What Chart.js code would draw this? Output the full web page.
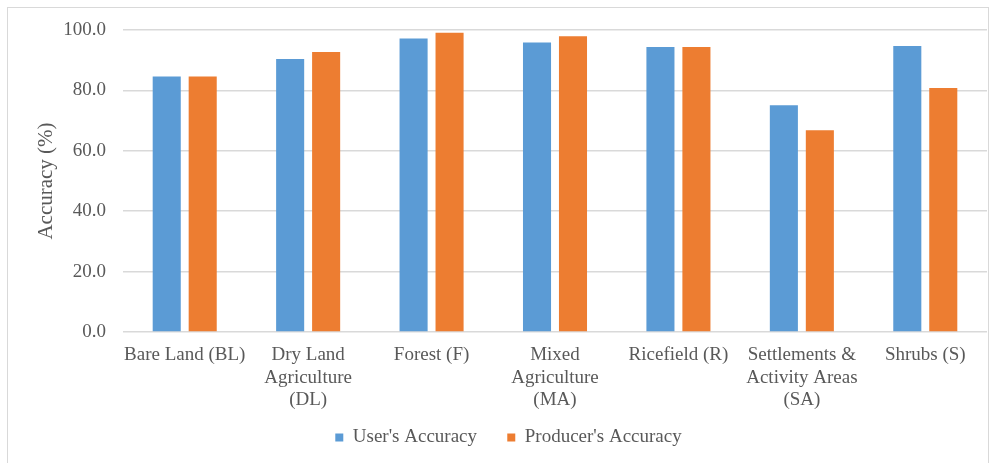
<!DOCTYPE html>
<html>
<head>
<meta charset="utf-8">
<script src="https://cdn.jsdelivr.net/npm/chart.js@4.4.0/dist/chart.umd.min.js"></script>
<style>
  html, body { margin: 0; padding: 0; background: #ffffff; }
  #frame { position: absolute; left: 7px; top: 7px; width: 982px; height: 460px; border: 1px solid #d9d9d9; box-sizing: border-box; }
  #wrap { position: absolute; left: 0; top: 0; width: 996px; height: 463px; }
</style>
</head>
<body>
<div id="frame"></div>
<div id="wrap"><canvas id="chart" width="996" height="463"></canvas></div>
<script>
// Land-cover classes (multi-line labels split into arrays)
const categories = [
  "Bare Land (BL)",
  ["Dry Land", "Agriculture", "(DL)"],
  "Forest (F)",
  ["Mixed", "Agriculture", "(MA)"],
  "Ricefield (R)",
  ["Settlements &", "Activity Areas", "(SA)"],
  "Shrubs (S)"
];
const usersAccuracy = [84.6, 90.4, 97.2, 95.9, 94.4, 75.1, 94.7];
const producersAccuracy = [84.6, 92.7, 99.1, 97.9, 94.4, 66.8, 80.8];
const yTicks = [0, 20, 40, 60, 80, 100];

const textColor = "#595959";
const gridColor = "#d9d9d9";
const serif = "'Liberation Serif', 'Times New Roman', serif";

new Chart(document.getElementById("chart"), {
  type: "bar",
  data: {
    labels: categories,
    datasets: [
      { label: "User's Accuracy", data: usersAccuracy, backgroundColor: "#5B9BD5",
        barPercentage: 0.78, categoryPercentage: 0.583 },
      { label: "Producer's Accuracy", data: producersAccuracy, backgroundColor: "#ED7D31",
        barPercentage: 0.78, categoryPercentage: 0.583 }
    ]
  },
  options: {
    responsive: false,
    animation: false,
    layout: { padding: { left: 30, right: 9, top: 30, bottom: 6 } },
    plugins: {
      tooltip: { enabled: false },
      legend: {
        position: "bottom",
        labels: {
          color: textColor,
          font: { family: serif, size: 19 },
          boxWidth: 8, boxHeight: 8,
          padding: 16,
          // widen the gap after the first entry
          generateLabels: (chart) => {
            const items = Chart.defaults.plugins.legend.labels.generateLabels(chart);
            items.forEach((it, i) => { if (i < items.length - 1) it.text = it.text + "   "; });
            return items;
          }
        }
      }
    },
    scales: {
      x: {
        grid: { display: false, drawTicks: false },
        border: { display: false },
        ticks: {
          color: textColor,
          font: { family: serif, size: 19, lineHeight: 1.18 },
          padding: 12,
          maxRotation: 0,
          autoSkip: false
        },
        afterFit: (s) => { s.height = 80; }
      },
      y: {
        min: 0, max: 100,
        afterBuildTicks: (s) => { s.ticks = yTicks.map(v => ({ value: v })); },
        grid: { color: gridColor, lineWidth: 1.5, drawTicks: false },
        border: { display: false },
        ticks: {
          color: textColor,
          font: { family: serif, size: 19 },
          padding: 17,
          callback: (v) => Number(v).toFixed(1)
        },
        title: {
          display: true,
          text: "Accuracy (%)",
          color: textColor,
          font: { family: serif, size: 21 },
          padding: { top: 4, bottom: 0 }
        },
        afterFit: (s) => { s.width = 93; }
      }
    }
  }
});
</script>
</body>
</html>
